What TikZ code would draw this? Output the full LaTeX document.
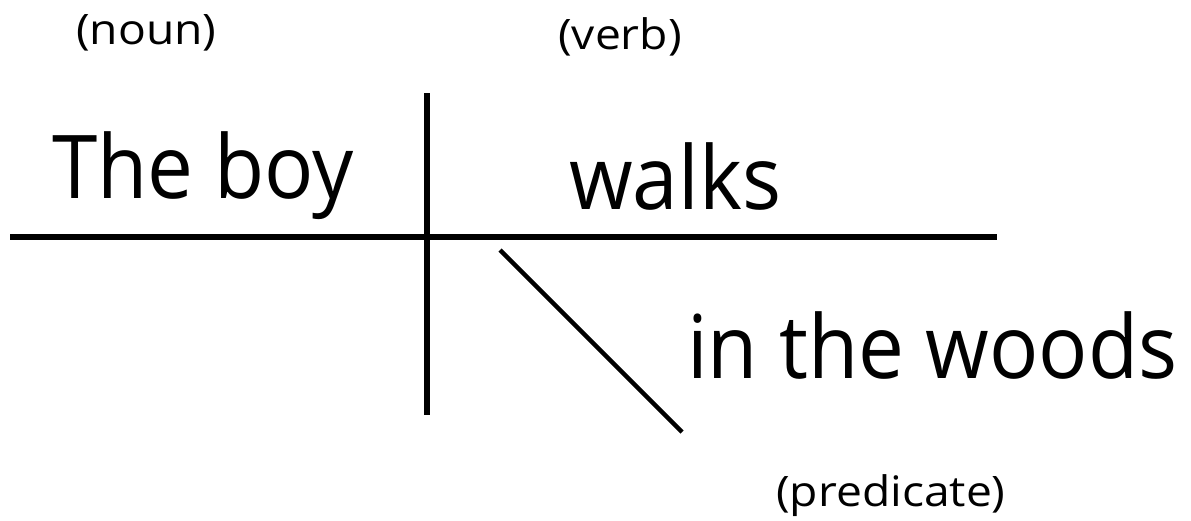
\documentclass[tikz,border=0pt]{standalone}
\usepackage{fontspec}
\setmainfont{Open Sans}
\newfontfamily\bigfam[FakeStretch=0.93]{Open Sans}
\newfontfamily\smallfam[FakeStretch=1.1]{Open Sans}
\begin{document}
\begin{tikzpicture}[x=1pt,y=-1pt,
  big/.style={anchor=base west,inner sep=0pt,font=\bigfam\fontsize{88}{100}\selectfont},
  small/.style={anchor=base west,inner sep=0pt,font=\smallfam\fontsize{42}{50}\selectfont},
  rule/.style={line width=5.5pt},
  diag/.style={line width=4.5pt}]
\useasboundingbox (0,0) rectangle (1191,520);
\coordinate (hl) at (10,237);
\coordinate (hr) at (997,237);
\coordinate (vt) at (427,93);
\coordinate (vb) at (427,415);
\coordinate (dt) at (500,250);
\coordinate (db) at (682,432);
\draw[rule] (hl) -- (hr);
\draw[rule] (vt) -- (vb);
\draw[diag] (dt) -- (db);
\node[big] (subj) at (52,198) {The boy};
\node[big] (verb) at (569,209) {walks};
\node[big] (pred) at (687,378) {in the woods};
\node[small] (noun) at (76,44) {(noun)};
\node[small] (verbl) at (558,49) {(verb)};
\node[small] (predl) at (776,506) {(predicate)};
\end{tikzpicture}
\end{document}
